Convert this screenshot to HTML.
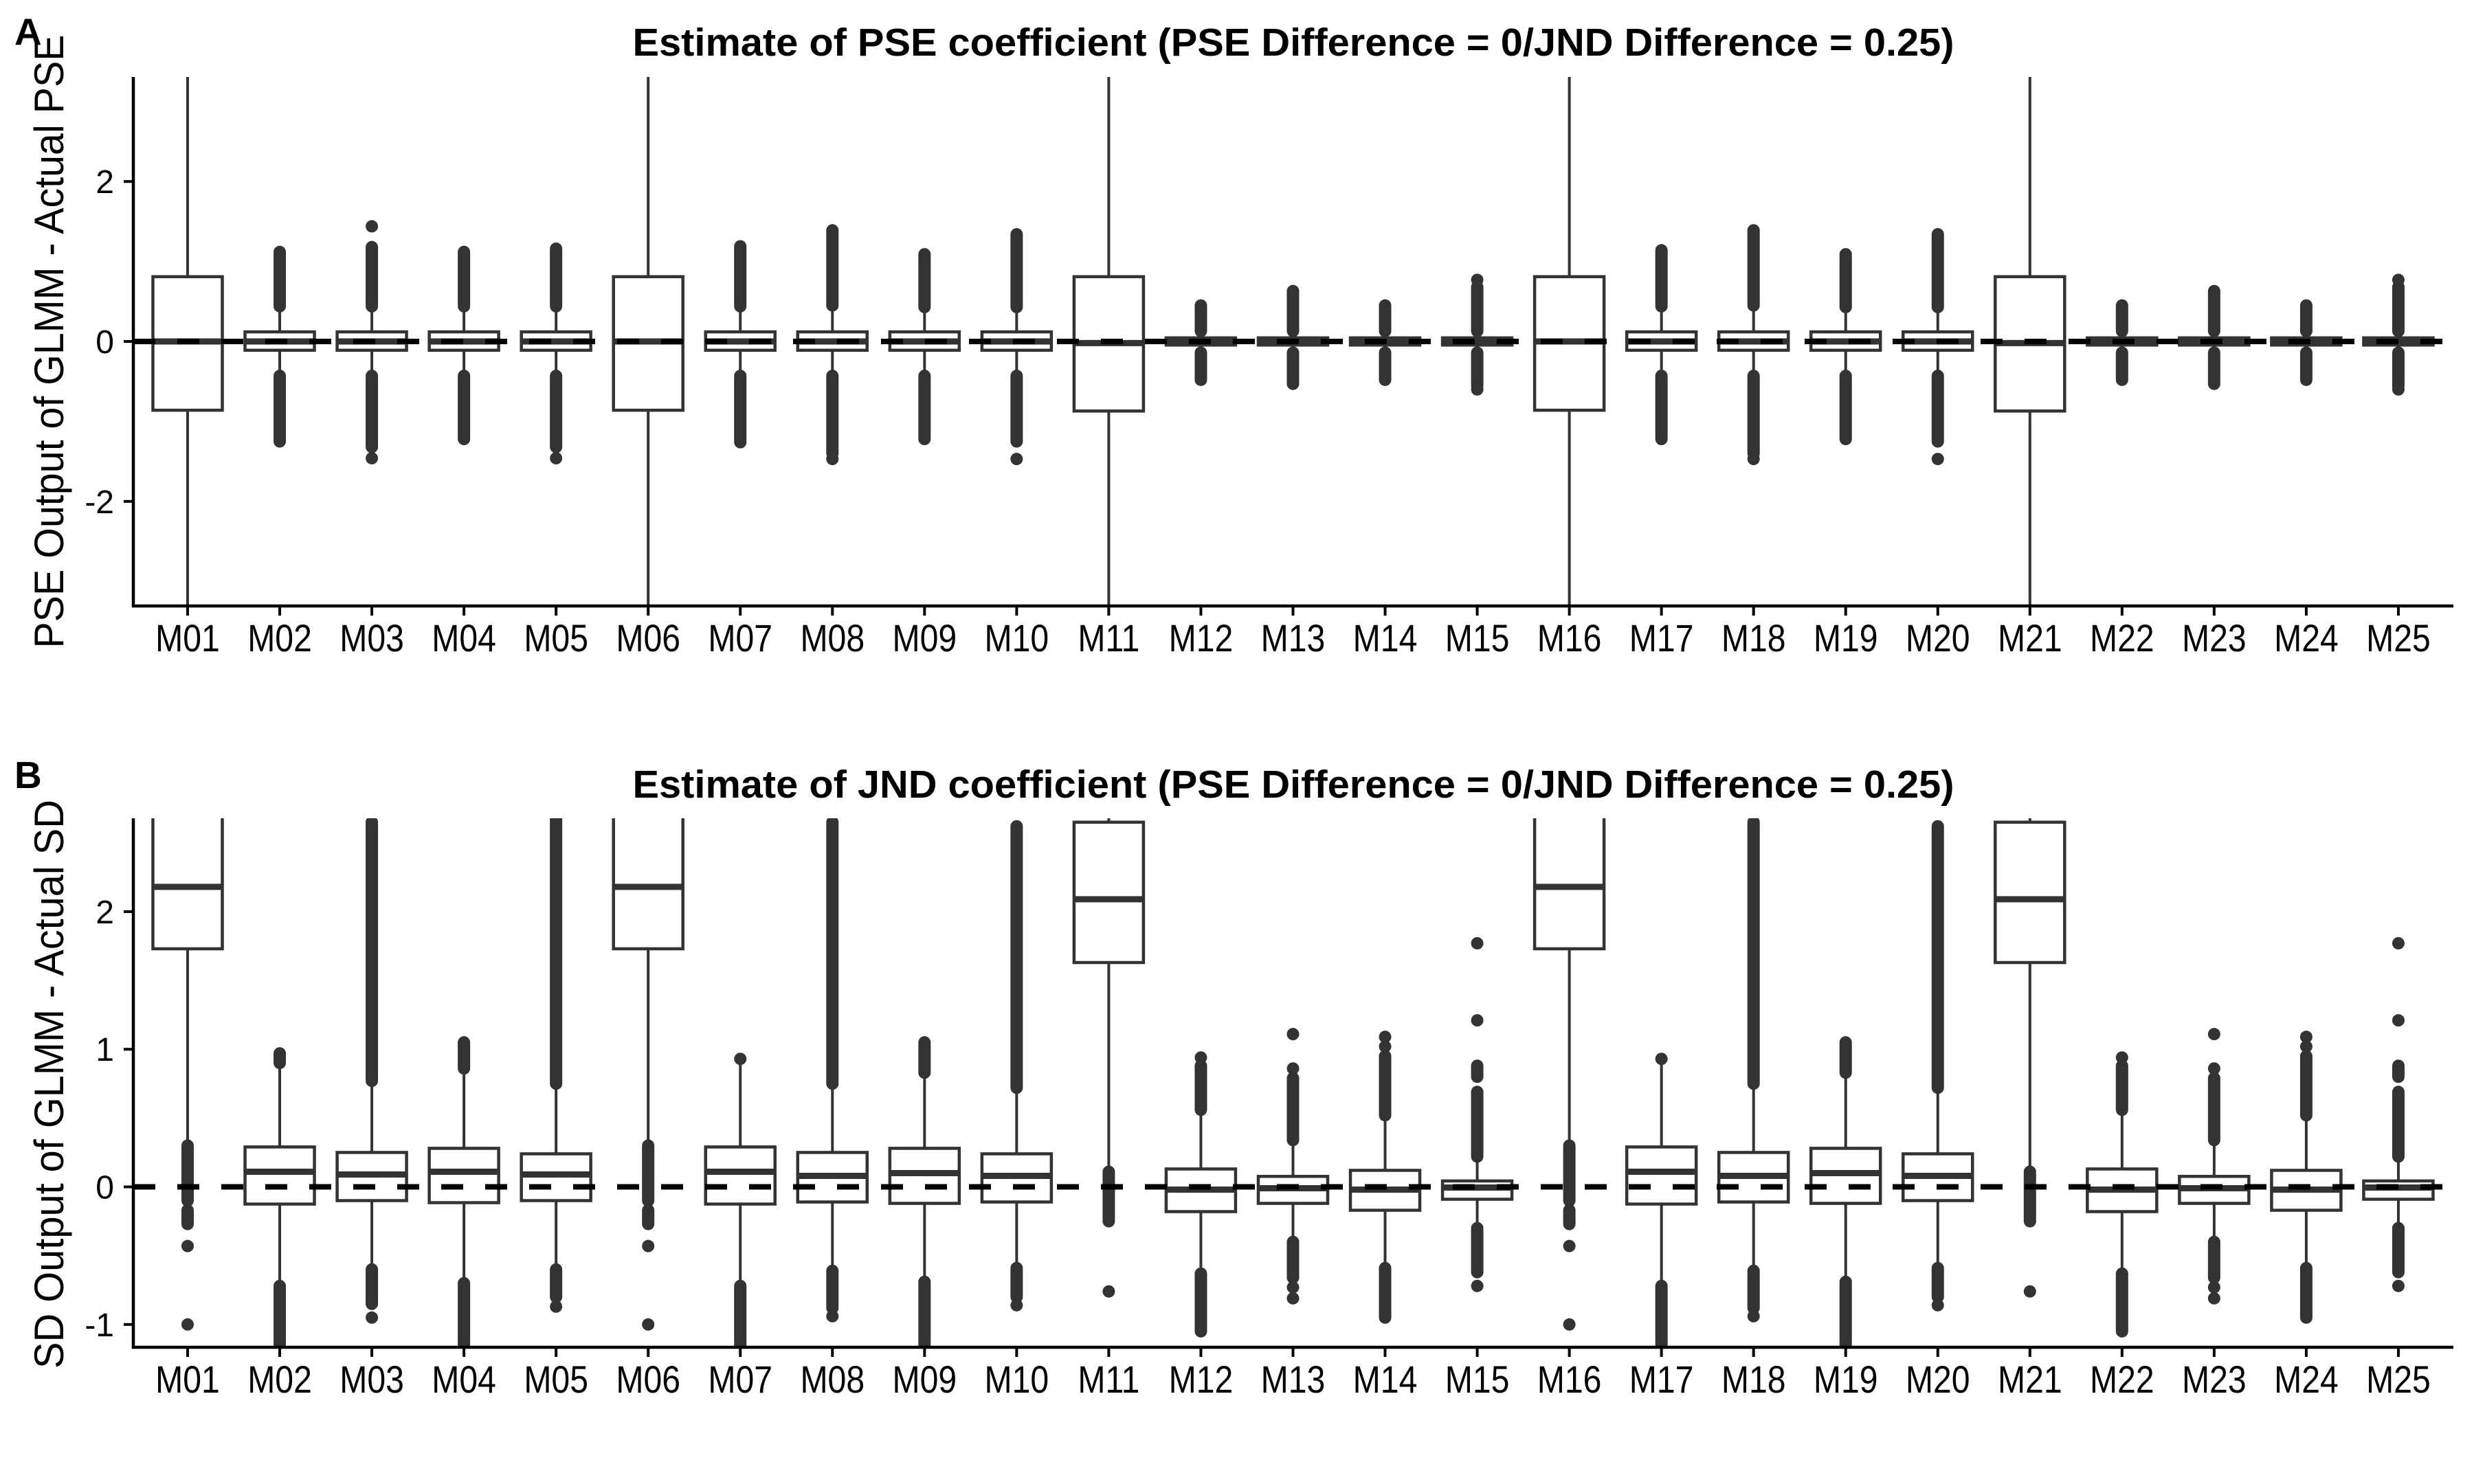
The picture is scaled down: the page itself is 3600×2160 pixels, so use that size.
<!DOCTYPE html>
<html><head><meta charset="utf-8"><style>
html,body{margin:0;padding:0;background:#fff;}
svg{display:block;font-family:"Liberation Sans",Arial,sans-serif;}
</style></head><body>
<svg id="chart" width="3600" height="2160" viewBox="0 0 3600 2160" xmlns="http://www.w3.org/2000/svg">
<defs>
<clipPath id="clipA"><rect x="194" y="112" width="3376" height="770"/></clipPath>
<clipPath id="clipB"><rect x="194" y="1191" width="3376" height="770"/></clipPath>
</defs>
<text x="21" y="65" font-size="55" font-weight="bold">A</text>
<text x="1882" y="81" font-size="57" font-weight="bold" text-anchor="middle" textLength="1923" lengthAdjust="spacingAndGlyphs">Estimate of PSE coefficient (PSE Difference = 0/JND Difference = 0.25)</text>
<text transform="translate(92,497) rotate(-90)" font-size="60" text-anchor="middle" textLength="893" lengthAdjust="spacingAndGlyphs">PSE Output of GLMM - Actual PSE</text>
<text x="21" y="1147" font-size="55" font-weight="bold">B</text>
<text x="1882" y="1161" font-size="57" font-weight="bold" text-anchor="middle" textLength="1923" lengthAdjust="spacingAndGlyphs">Estimate of JND coefficient (PSE Difference = 0/JND Difference = 0.25)</text>
<text transform="translate(92,1578) rotate(-90)" font-size="60" text-anchor="middle" textLength="828" lengthAdjust="spacingAndGlyphs">SD Output of GLMM - Actual SD</text>
<g id="panelA"></g>
<g id="panelB"></g>
</svg>
<script>
const categories = ["M01","M02","M03","M04","M05","M06","M07","M08","M09","M10","M11","M12","M13","M14","M15","M16","M17","M18","M19","M20","M21","M22","M23","M24","M25"];

// Panel A (PSE)
const q1A = [-0.86,-0.11,-0.11,-0.11,-0.11,-0.86,-0.11,-0.11,-0.11,-0.11,-0.87,-0.045,-0.045,-0.045,-0.045,-0.86,-0.11,-0.11,-0.11,-0.11,-0.87,-0.045,-0.045,-0.045,-0.045];
const medA = [0,0,0,0,0,0,0,0,0,0,-0.02,0,0,0,0,0,0,0,0,0,-0.02,0,0,0,0];
const q3A = [0.81,0.12,0.12,0.12,0.12,0.81,0.12,0.12,0.12,0.12,0.81,0.045,0.045,0.045,0.045,0.81,0.12,0.12,0.12,0.12,0.81,0.045,0.045,0.045,0.045];
const loWA = [-3.6,-0.43,-0.43,-0.43,-0.43,-3.6,-0.43,-0.43,-0.43,-0.43,-3.6,-0.13,-0.13,-0.13,-0.13,-3.6,-0.43,-0.43,-0.43,-0.43,-3.6,-0.13,-0.13,-0.13,-0.13];
const hiWA = [3.6,0.44,0.44,0.44,0.44,3.6,0.44,0.44,0.44,0.44,3.6,0.13,0.13,0.13,0.13,3.6,0.44,0.44,0.44,0.44,3.6,0.13,0.13,0.13,0.13];
const outSegA = [[],[[0.44,1.12],[-1.25,-0.43]],[[0.44,1.18],[-1.32,-0.43]],[[0.44,1.12],[-1.22,-0.43]],[[0.44,1.16],[-1.32,-0.43]],
 [],[[0.44,1.19],[-1.26,-0.43]],[[0.45,1.39],[-1.40,-0.43]],[[0.43,1.09],[-1.22,-0.43]],[[0.43,1.34],[-1.25,-0.43]],
 [],[[0.13,0.45],[-0.48,-0.14]],[[0.13,0.63],[-0.53,-0.14]],[[0.13,0.45],[-0.48,-0.14]],[[0.13,0.68],[-0.56,-0.14]],
 [],[[0.44,1.14],[-1.22,-0.43]],[[0.45,1.39],[-1.40,-0.43]],[[0.43,1.09],[-1.22,-0.43]],[[0.43,1.34],[-1.25,-0.43]],
 [],[[0.13,0.45],[-0.48,-0.14]],[[0.13,0.63],[-0.53,-0.14]],[[0.13,0.45],[-0.48,-0.14]],[[0.13,0.68],[-0.56,-0.14]]];
const outPtA = [[],[],[1.44,-1.46],[],[-1.46],[],[],[-1.47],[],[-1.47],[],[],[],[],[0.77,-0.6],[],[],[-1.47],[],[-1.47],[],[],[],[],[0.77,-0.6]];
const ticksA = [-2,0,2];
const tickLabelsA = ["-2","0","2"];

// Panel B (JND)
const q1B = [1.73,-0.125,-0.10,-0.115,-0.10,1.73,-0.125,-0.11,-0.12,-0.11,1.63,-0.18,-0.12,-0.17,-0.09,1.73,-0.125,-0.11,-0.12,-0.10,1.63,-0.18,-0.12,-0.17,-0.09];
const medB = [2.18,0.11,0.09,0.11,0.09,2.18,0.11,0.08,0.10,0.08,2.09,-0.02,-0.01,-0.02,-0.005,2.18,0.11,0.08,0.10,0.08,2.09,-0.02,-0.01,-0.02,-0.005];
const q3B = [3.0,0.29,0.25,0.28,0.24,3.0,0.29,0.25,0.28,0.24,2.65,0.13,0.076,0.12,0.043,3.0,0.29,0.25,0.28,0.24,2.65,0.13,0.076,0.12,0.043];
const loWB = [0.31,-0.72,-0.6,-0.7,-0.6,0.31,-0.72,-0.61,-0.69,-0.59,0.11,-0.63,-0.40,-0.59,-0.30,0.31,-0.72,-0.61,-0.69,-0.59,0.11,-0.63,-0.40,-0.59,-0.30];
const hiWB = [4,0.9,0.77,0.86,0.75,4,0.92,0.75,0.83,0.72,2.8,0.56,0.34,0.52,0.22,4,0.92,0.75,0.83,0.72,2.8,0.56,0.34,0.52,0.22];
const outSegB = [[[-0.1,0.3],[-0.27,-0.17]],[[0.9,0.97],[-1.3,-0.72]],[[0.77,2.65],[-0.85,-0.6]],[[0.86,1.05],[-1.3,-0.7]],[[0.75,2.68],[-0.8,-0.6]],
 [[-0.1,0.3],[-0.27,-0.17]],[[-1.3,-0.72]],[[0.75,2.65],[-0.88,-0.61]],[[0.83,1.05],[-1.3,-0.69]],[[0.72,2.62],[-0.8,-0.59]],
 [[-0.25,0.11]],[[0.56,0.88],[-1.05,-0.63]],[[0.34,0.79],[-0.66,-0.40]],[[0.52,0.95],[-0.95,-0.59]],[[0.22,0.69],[0.8,0.88],[-0.62,-0.30]],
 [[-0.1,0.3],[-0.27,-0.17]],[[-1.3,-0.72]],[[0.75,2.65],[-0.88,-0.61]],[[0.83,1.05],[-1.3,-0.69]],[[0.72,2.62],[-0.8,-0.59]],
 [[-0.25,0.11]],[[0.56,0.88],[-1.05,-0.63]],[[0.34,0.79],[-0.66,-0.40]],[[0.52,0.95],[-0.95,-0.59]],[[0.22,0.69],[0.8,0.88],[-0.62,-0.30]]];
const outPtB = [[-0.43,-1.0],[],[-0.95],[],[-0.87],[-0.43,-1.0],[0.93],[-0.94],[],[-0.86],[-0.76],[0.94],[0.86,1.11,-0.73,-0.81],[1.02,1.09],[1.21,1.77,-0.72],
 [-0.43,-1.0],[0.93],[-0.94],[],[-0.86],[-0.76],[0.94],[0.86,1.11,-0.73,-0.81],[1.02,1.09],[1.21,1.77,-0.72]];
const ticksB = [-1,0,1,2];
const tickLabelsB = ["-1","0","1","2"];

const NS = "http://www.w3.org/2000/svg";
function mk(tag, attrs, parent){const e=document.createElementNS(NS,tag);for(const k in attrs)e.setAttribute(k,attrs[k]);parent.appendChild(e);return e;}
const X0 = 194, X1 = 3570;
function xPos(i){return 273 + i*134.04;}

function drawPanel(g, cfg){
  const y = v => cfg.zeroY - v*cfg.unit;
  const plot = mk('g',{'clip-path':'url(#'+cfg.clip+')'},g);
  for(let i=0;i<categories.length;i++){
    const cx=xPos(i), hw=50.5;
    const grp = mk('g',{},plot);
    
    
    mk('line',{x1:cx,x2:cx,y1:y(cfg.q3[i]),y2:y(cfg.hiW[i]),stroke:'#333','stroke-width':4},grp);
    mk('line',{x1:cx,x2:cx,y1:y(cfg.q1[i]),y2:y(cfg.loW[i]),stroke:'#333','stroke-width':4},grp);
    mk('rect',{x:cx-hw,y:y(cfg.q3[i]),width:2*hw,height:y(cfg.q1[i])-y(cfg.q3[i]),fill:'#fff',stroke:'#333','stroke-width':4.5},grp);
    mk('line',{x1:cx-hw,x2:cx+hw,y1:y(cfg.med[i]),y2:y(cfg.med[i]),stroke:'#333','stroke-width':9},grp);
    cfg.seg[i].forEach(s=>{
      const l=mk('line',{x1:cx,x2:cx,y1:y(s[0]),y2:y(s[1]),stroke:'#333','stroke-width':18,'stroke-linecap':'round'},grp);
      
      
    });
    cfg.pts[i].forEach(p=>{
      const c=mk('circle',{cx:cx,cy:y(p),r:9,fill:'#333'},grp);
      
      
    });
  }
  const ref = mk('line',{x1:X0,x2:X1,y1:y(0),y2:y(0),stroke:'#000','stroke-width':8,'stroke-dasharray':'32 32'},g);
  
  
  const ax = mk('path',{d:`M${X0},${cfg.top} V${cfg.bottom} H${X1}`,fill:'none',stroke:'#000','stroke-width':4.5},g);
  
  
  cfg.ticks.forEach((t,k)=>{
    mk('line',{x1:X0-14,x2:X0,y1:y(t),y2:y(t),stroke:'#000','stroke-width':4},g);
    const tx=mk('text',{x:X0-28,y:y(t)+17,'font-size':48,'text-anchor':'end',fill:'#000'},g);
    tx.textContent=cfg.tickLabels[k];
    
    
  });
  categories.forEach((c,i)=>{
    const cx=xPos(i);
    mk('line',{x1:cx,x2:cx,y1:cfg.bottom,y2:cfg.bottom+14,stroke:'#000','stroke-width':4},g);
    const tg=mk('g',{transform:`translate(${cx},${cfg.bottom+66}) scale(0.86,1)`},g);
    const tx=mk('text',{x:0,y:0,'font-size':56,'text-anchor':'middle',fill:'#000'},tg);
    tx.textContent=c;
    
    
  });
}
drawPanel(document.getElementById('panelA'),{zeroY:497,unit:116.4,top:112,bottom:882,clip:'clipA',
  q1:q1A,med:medA,q3:q3A,loW:loWA,hiW:hiWA,seg:outSegA,pts:outPtA,ticks:ticksA,tickLabels:tickLabelsA});
drawPanel(document.getElementById('panelB'),{zeroY:1727.5,unit:200.3,top:1191,bottom:1961,clip:'clipB',
  q1:q1B,med:medB,q3:q3B,loW:loWB,hiW:hiWB,seg:outSegB,pts:outPtB,ticks:ticksB,tickLabels:tickLabelsB});
</script>
</body></html>
